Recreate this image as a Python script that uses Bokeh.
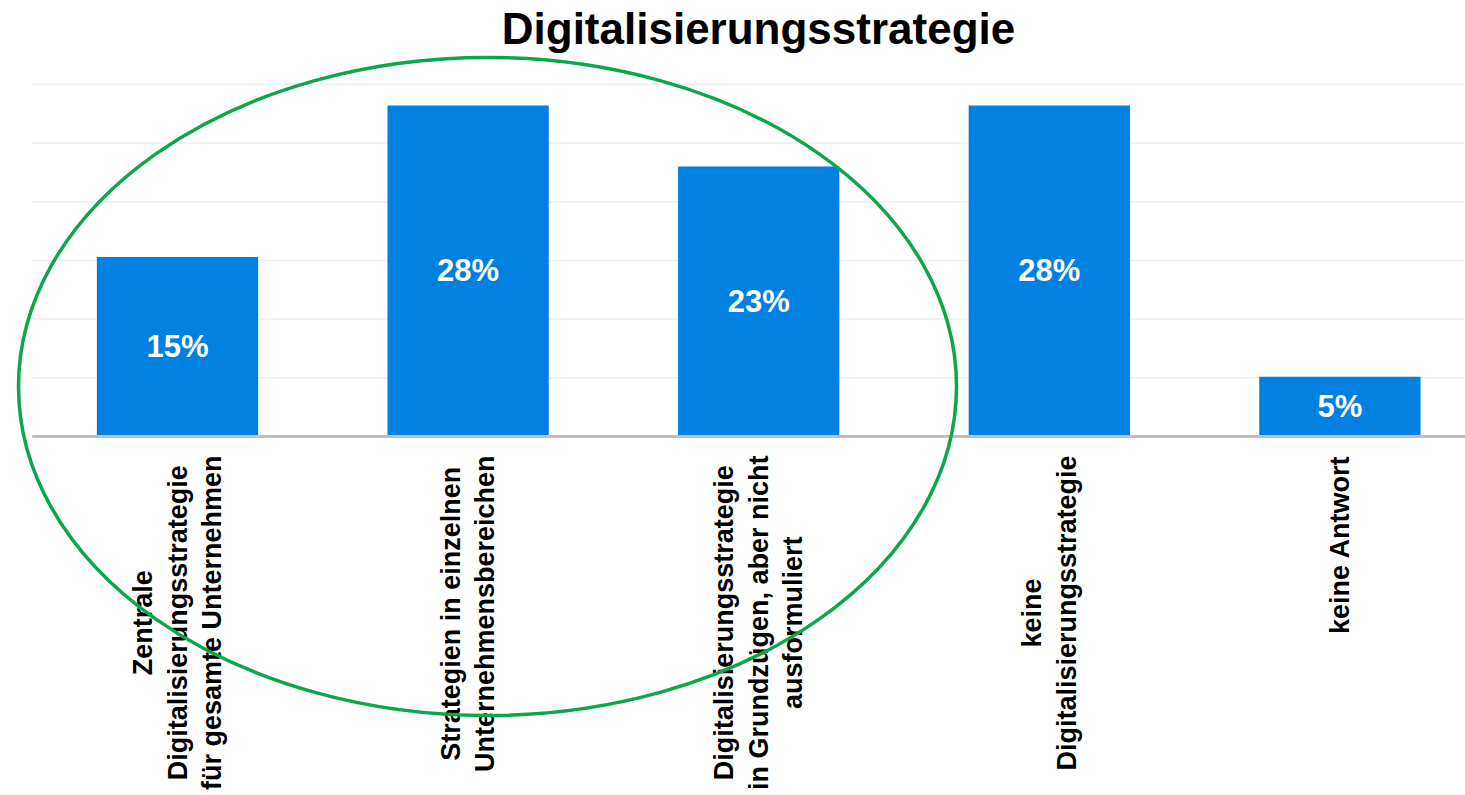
import numpy as np
from bokeh.plotting import figure
from bokeh.models import Range1d
from bokeh.core.properties import value
from bokeh.embed import file_html
from bokeh.resources import INLINE

# ---------------- data ----------------
title_text = "Digitalisierungsstrategie"
categories = [
    "Zentrale\nDigitalisierungsstrategie\nfür gesamte Unternehmen",
    "Strategien in einzelnen\nUnternehmensbereichen",
    "Digitalisierungsstrategie\nin Grundzügen, aber nicht\nausformuliert",
    "keine\nDigitalisierungsstrategie",
    "keine Antwort",
]
shares = [15.3, 28.2, 23.0, 28.2, 5.1]
share_labels = ["15%", "28%", "23%", "28%", "5%"]
grid_ticks = [5, 10, 15, 20, 25, 30]

# ---------------- layout constants ----------------
FIG_W, FIG_H = 1465, 795
PAGE_OFFSET = 0
BASE_PAGE_Y = 436          # baseline position on the page
Y_UNIT = 11.74             # px per percentage point
X_UNIT = 290.6             # px per category
X0_PAGE = 177              # page x of first category centre

x_start = (PAGE_OFFSET - X0_PAGE) / X_UNIT
x_end = (PAGE_OFFSET + FIG_W - X0_PAGE) / X_UNIT
y_end = (BASE_PAGE_Y - PAGE_OFFSET) / Y_UNIT
y_start = -(PAGE_OFFSET + FIG_H - BASE_PAGE_Y) / Y_UNIT

def px_to_y(page_y):
    return (BASE_PAGE_Y - page_y) / Y_UNIT

def px_to_x(page_x):
    return (page_x - X0_PAGE) / X_UNIT

# Helvetica/Arial bold advance widths (1/1000 em) for centring rotated labels
AW = {" ": 278, ",": 278, "A": 722, "D": 722, "G": 778, "S": 667, "U": 722, "Z": 611,
      "a": 556, "b": 611, "c": 556, "d": 611, "e": 556, "f": 333, "g": 611, "h": 611,
      "i": 278, "k": 556, "l": 278, "m": 889, "n": 611, "o": 611, "r": 389, "s": 556,
      "t": 333, "u": 611, "w": 778, "z": 500, "ü": 611}
LABEL_FS = 27

def text_width(s, fs):
    return sum(AW.get(c, 556) for c in s) / 1000.0 * fs

p = figure(width=FIG_W, height=FIG_H,
           x_range=Range1d(x_start, x_end), y_range=Range1d(y_start, y_end),
           output_backend="svg", toolbar_location=None,
           x_axis_type=None, y_axis_type=None, min_border=0)
p.outline_line_color = None
p.background_fill_color = "white"
p.border_fill_color = "white"

idx = list(range(len(categories)))

# gridlines
n = len(grid_ticks)
p.segment(x0=[-0.5] * n, y0=grid_ticks, x1=[x_end] * n, y1=grid_ticks,
          line_color="#EDEDED", line_width=1.5)

# bars
p.vbar(x=idx, top=shares, width=0.555, bottom=0, fill_color="#0080E0",
       line_color=None)

# baseline
p.segment(x0=[-0.5], y0=[0], x1=[x_end], y1=[0], line_color="#BFBFBF", line_width=3)

# bar value labels
p.text(x=idx, y=[s / 2 for s in shares], text=share_labels,
       text_align="center", text_baseline="middle", text_color="white",
       text_font=value("Liberation Sans"), text_font_style="bold",
       text_font_size="31px")

# category labels (rotated, block centred)
label_y = []
for c in categories:
    w = max(text_width(line, LABEL_FS) for line in c.split("\n"))
    label_y.append(px_to_y(455 + w / 2))
p.text(x=idx, y=label_y, text=categories, angle=np.pi / 2,
       text_align="center", text_baseline="middle", text_color="black",
       text_font=value("Liberation Sans"), text_font_style="bold",
       text_font_size=f"{LABEL_FS}px", text_line_height=1.15)

# title
p.text(x=[px_to_x(758)], y=[px_to_y(28)], text=[title_text],
       text_align="center", text_baseline="middle", text_color="black",
       text_font=value("Liberation Sans"), text_font_style="bold",
       text_font_size="44px")

# highlight ellipse
p.ellipse(x=[px_to_x(487)], y=[px_to_y(386)], width=938, height=658,
          width_units="screen", height_units="screen",
          fill_color=None, line_color="#0EA64B", line_width=3.5)

open("out.html", "w").write(file_html(p, INLINE))
